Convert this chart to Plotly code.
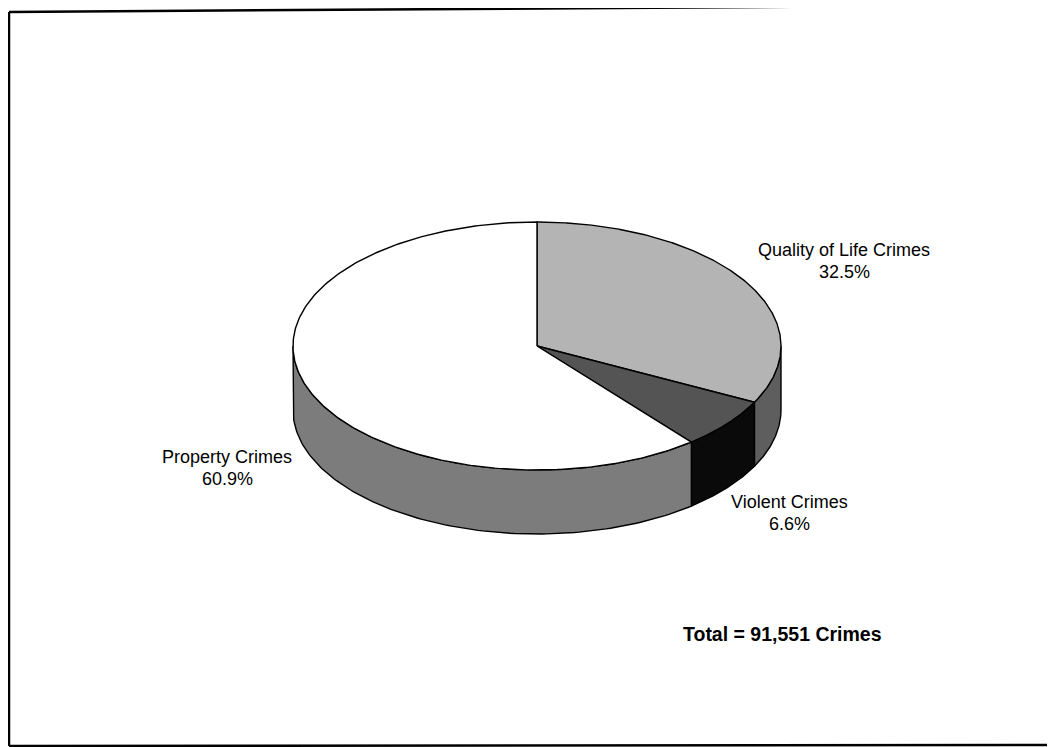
import numpy as np
import plotly.graph_objects as go

# ---- data ----
categories = ["Quality of Life Crimes", "Violent Crimes", "Property Crimes"]
shares = [32.5, 6.6, 60.9]
total_label = "Total = 91,551 Crimes"

# ---- styles ----
top_colors = ["#b4b4b4", "#545454", "#ffffff"]
side_colors = ["#5e5e5e", "#0a0a0a", "#7c7c7c"]
label_pos = [(844, 250), (789, 502), (227, 457)]

W, H = 1055, 747
OFF = 8  # default page body margin
cx, cy, rx, ry, depth = 537, 346, 244, 124, 64


def pt(t, dy=0.0):
    # t measured clockwise from 12 o'clock (parametric angle)
    return cx + rx * np.sin(t), cy - ry * np.cos(t) + dy


fig = go.Figure()

vals = np.array(shares, dtype=float)
bounds = np.concatenate([[0], np.cumsum(vals) / vals.sum()]) * 2 * np.pi

# sides (front half only: t in [pi/2, 3pi/2])
for i in range(len(vals)):
    a, b = bounds[i], bounds[i + 1]
    lo, hi = max(a, np.pi / 2), min(b, 3 * np.pi / 2)
    if hi <= lo:
        continue
    t = np.linspace(lo, hi, 120)
    xt, yt = pt(t)
    xb, yb = pt(t[::-1], depth)
    xs = np.concatenate([xt, xb, xt[:1]])
    ys = np.concatenate([yt, yb, yt[:1]])
    fig.add_trace(go.Scatter(x=xs, y=ys, mode="lines", fill="toself",
                             fillcolor=side_colors[i],
                             line=dict(color="black", width=1.4),
                             hoverinfo="skip", showlegend=False))

# tops
for i in range(len(vals)):
    a, b = bounds[i], bounds[i + 1]
    t = np.linspace(a, b, 300)
    xa, ya = pt(t)
    xs = np.concatenate([[cx], xa, [cx]])
    ys = np.concatenate([[cy], ya, [cy]])
    fig.add_trace(go.Scatter(x=xs, y=ys, mode="lines", fill="toself",
                             fillcolor=top_colors[i],
                             line=dict(color="black", width=1.4),
                             hoverinfo="skip", showlegend=False,
                             name=categories[i]))

font = dict(family="Liberation Sans, Arial, sans-serif", size=18, color="black")
for name, v, (lx, ly) in zip(categories, shares, label_pos):
    fig.add_annotation(x=lx, y=ly, text=name, showarrow=False, font=font,
                       xanchor="center", yanchor="middle")
    fig.add_annotation(x=lx, y=ly + 22, text=f"{v:.1f}%", showarrow=False, font=font,
                       xanchor="center", yanchor="middle")

fig.add_annotation(x=782, y=634, text=f"<b>{total_label}</b>", showarrow=False,
                   font=dict(family="Liberation Sans, Arial, sans-serif", size=19.5, color="black"),
                   xanchor="center", yanchor="middle")

# frame
for (x0, y0, x1, y1) in [(9, 12, 1055, 5), (9, 12, 9, 746), (9, 746, 1055, 745)]:
    fig.add_shape(type="line", x0=x0, y0=y0, x1=x1, y1=y1, xref="x", yref="y",
                  line=dict(color="black", width=2.5))

fig.update_xaxes(range=[OFF, W], visible=False, fixedrange=True)
fig.update_yaxes(range=[H, OFF], visible=False, fixedrange=True)
fig.update_layout(width=W - OFF, height=H - OFF, margin=dict(l=0, r=0, t=0, b=0),
                  paper_bgcolor="white", plot_bgcolor="white", showlegend=False)

fig.write_html("out.html")
